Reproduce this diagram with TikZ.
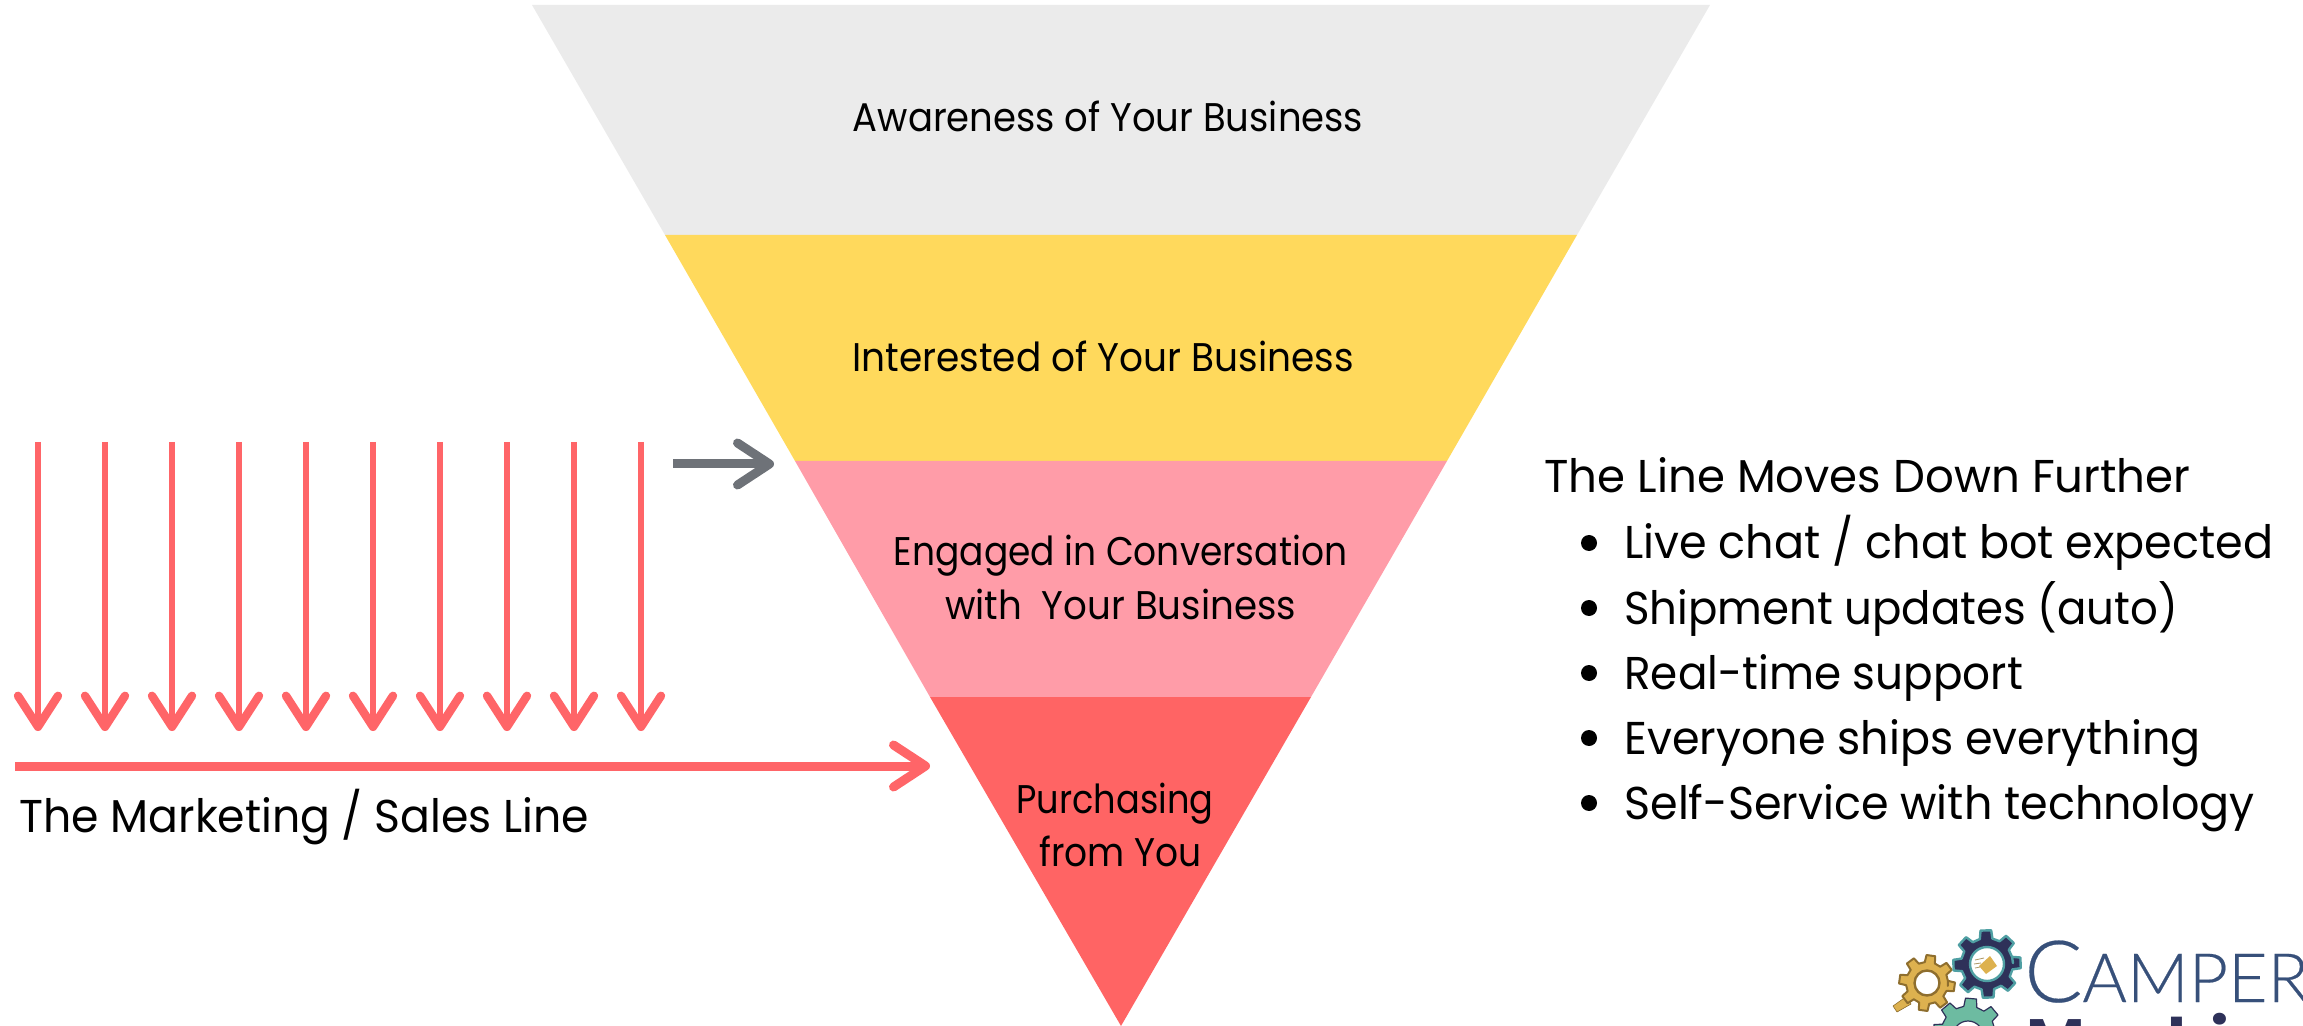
\documentclass[tikz,border=0pt]{standalone}
\usepackage{fontspec}
\setmainfont{Poppins}
\newfontfamily\logothin{Lato Light}[FakeBold=0.3]
\usetikzlibrary{arrows.meta}
\definecolor{lyrgray}{HTML}{EBEBEB}
\definecolor{lyryellow}{HTML}{FFD95C}
\definecolor{lyrpink}{HTML}{FF9CA8}
\definecolor{lyrred}{HTML}{FF6464}
\definecolor{arrred}{HTML}{FF6568}
\definecolor{arrgray}{HTML}{6E7278}
\definecolor{lgnavy}{HTML}{2E3159}
\definecolor{lgblue}{HTML}{37507A}
\definecolor{lgteal}{HTML}{4F9FA3}
\definecolor{lggreen}{HTML}{6DBBA1}
\definecolor{lggold}{HTML}{DDB14F}
\definecolor{lgbrown}{HTML}{8E6E2E}
\newcommand{\narrow}[2]{{\addfontfeature{FakeStretch=#1}#2}}
\tikzset{
  funnel/.style={font=\fontsize{20}{24}\selectfont,text=black,inner sep=0pt,anchor=base},
  sidetext/.style={font=\fontsize{23}{28}\selectfont,text=black,inner sep=0pt,anchor=base west},
  downarrow/.style={draw=arrred,line width=3.4pt,-{Straight Barb[length=15.5pt,width=20pt,round,line width=4.2pt]}},
  redline/.style={draw=arrred,line width=4.5pt,-{Straight Barb[length=16pt,width=21pt,round]}},
  grayline/.style={draw=arrgray,line width=4.5pt,-{Straight Barb[length=16pt,width=21pt,round]}},
  dot/.style={circle,fill=black,minimum size=8pt,inner sep=0pt},
}
% centre x, centre y, outer r, root r, rotation, style
\newcommand{\gearshape}[6]{%
  \path[#6,even odd rule,shift={(#1,#2)}]
    (#5+0:#4)
    \foreach \k in {0,45,...,315} {
      -- (#5+\k-14:#4) -- (#5+\k-9:#3) -- (#5+\k+9:#3) -- (#5+\k+14:#4) -- (#5+\k+31:#4)
    } -- cycle;
}
\begin{document}
\begin{tikzpicture}[x=0.5pt,y=-0.5pt,line join=round]
\useasboundingbox (0,0) rectangle (2303,1026);
\clip (0,0) rectangle (2303,1026);
% funnel
\fill[lyrgray] (532,5) -- (1710,5) -- (1577,235) -- (665,235) -- cycle;
\fill[lyryellow] (665,235) -- (1577,235) -- (1447,461) -- (795,461) -- cycle;
\fill[lyrpink] (795,461) -- (1447,461) -- (1311,697) -- (930,697) -- cycle;
\fill[lyrred] (930,697) -- (1311,697) -- (1121,1026) -- cycle;
\node[funnel] (aware) at (1108,132) {\narrow{.925}{Awareness of Your Business}};
\node[funnel] (inter) at (1103,372) {\narrow{.937}{Interested of Your Business}};
\node[funnel] (eng1) at (1120.5,566) {\narrow{.90}{Engaged in Conversation}};
\node[funnel] (eng2) at (1120.5,619) {\narrow{.93}{with\ \ Your Business}};
\node[funnel] (purch1) at (1115,813) {\narrow{.88}{Purchasing}};
\node[funnel] (purch2) at (1120.5,866) {\narrow{.90}{from You}};
% down arrows
\foreach \i/\x in {1/38,2/105,3/172,4/239,5/306,6/373,7/440,8/507,9/574,10/641} {
  \coordinate (s\i) at (\x,442);
  \coordinate (e\i) at (\x,731);
  \draw[downarrow] (s\i) -- (e\i);
}
\coordinate (ls) at (15,766);
\coordinate (le) at (930,766);
\draw[redline] (ls) -- (le);
\coordinate (gs) at (673,464);
\coordinate (ge) at (774,464);
\draw[grayline] (gs) -- (ge);
\node[sidetext] (mk) at (19,832) {\narrow{.96}{The Marketing / Sales Line}};
\node[sidetext] (t0) at (1544,493) {\narrow{.98}{The Line Moves Down Further}};
\foreach \n/\y/\s/\t in {1/559/.967/{Live chat / chat bot expected},2/624/.945/{Shipment updates (auto)},3/689/.95/{Real-time support},4/754/.966/{Everyone ships everything},5/819/.966/{Self-Service with technology}} {
  \node[sidetext] (b\n) at (1624,\y) {\narrow{\s}{\t}};
  \node[dot] (d\n) at (1589,\y-16) {};
}
% logo
\fill[lggold,draw=lgbrown,line width=.3pt] (1893,1006) -- (1907,996) -- (1911,1004) -- (1897,1012) -- cycle;
\gearshape{1927}{983}{28}{21}{8}{fill=lggold,draw=lgbrown,line width=1pt}
\fill[white,draw=lgbrown,line width=1.2pt] (1927,983) circle[radius=12.5];
\gearshape{1987}{964}{34}{26}{-2}{fill=lgnavy,draw=lgteal,line width=1.2pt}
\fill[white,draw=lgteal,line width=1.2pt] (1987,964) circle[radius=17];
\fill[lggold] (1979,966) -- (1990,956) -- (1997,966) -- (1986,974) -- cycle;
\draw[lggold!50!gray,line width=.4pt] (1975,960) -- (1984,958) (1974,964) -- (1981,963) (1975,968) -- (1980,967);
\gearshape{1968}{1033}{35}{27}{5}{fill=lggreen,draw=lgnavy,line width=.6pt}
\fill[white,draw=lgnavy,line width=.6pt] (1968,1036) circle[radius=15];
\node[inner sep=0pt,anchor=base west,text=lgblue,font={\logothin\fontsize{43}{43}\selectfont}] (lc) at (2024,1002) {C};
\node[inner sep=0pt,anchor=base west,text=lgblue,font={\logothin\fontsize{34}{34}\selectfont}] (la) at (2082,1002) {AMPER};
\node[inner sep=0pt,anchor=base west,text=lgnavy,font={\bfseries\fontsize{32}{32}\selectfont}] (lm) at (2026,1064) {Machine};
\end{tikzpicture}
\end{document}
